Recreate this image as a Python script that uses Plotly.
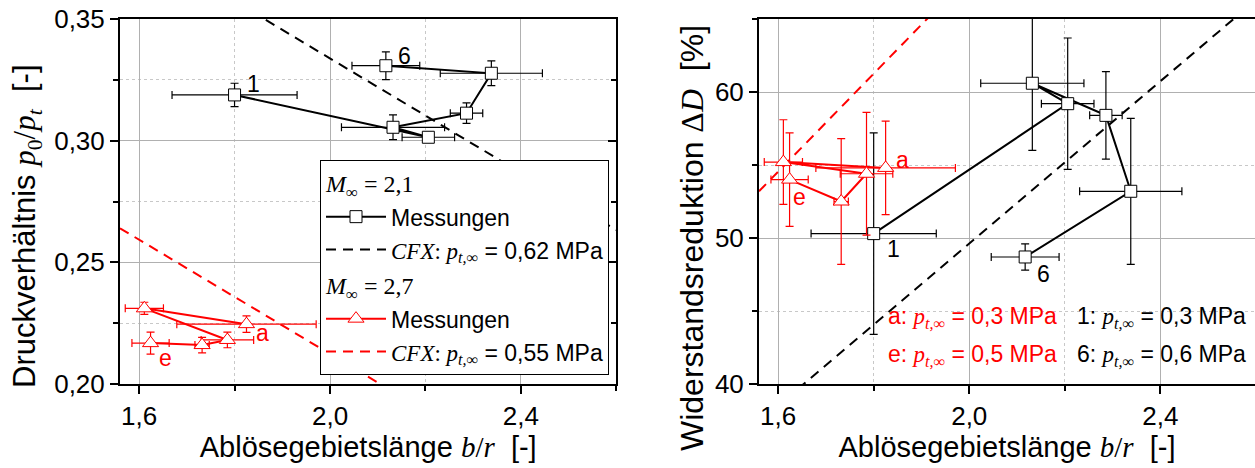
import plotly.graph_objects as go

# ---------------- data ----------------
# Messungen, M∞ = 2,1 (Punkte 1 … 6)
b_r_m21 = [1.800, 2.206, 2.132, 2.286, 2.338, 2.117]
b_r_m21_err = [0.131, 0.055, 0.108, 0.034, 0.107, 0.071]
p_ratio_m21 = [0.3188, 0.3014, 0.3055, 0.3113, 0.3277, 0.3308]
p_ratio_m21_err = [0.0048, 0.0020, 0.0051, 0.0042, 0.0051, 0.0057]
drag_red_m21 = [50.3, 59.2, 60.6, 58.4, 53.2, 48.7]
drag_red_m21_err = [6.9, 4.5, 4.6, 3.0, 5.0, 0.9]
labels_m21 = ["1", "", "", "", "", "6"]

# Messungen, M∞ = 2,7 (Punkte a … e)
b_r_m27 = [1.825, 1.611, 1.785, 1.732, 1.624]
b_r_m27_err = [0.146, 0.040, 0.055, 0.015, 0.039]
p_ratio_m27 = [0.2246, 0.2311, 0.2181, 0.2160, 0.2168]
p_ratio_m27_err = [0.0034, 0.0025, 0.0032, 0.0032, 0.0045]
drag_red_m27 = [54.8, 55.2, 54.4, 52.5, 54.0]
drag_red_m27_err = [3.2, 2.9, 4.2, 4.3, 3.2]
labels_m27 = ["a", "", "", "", "e"]

# CFX-Trendlinien
cfx_b_r = [1.56, 2.60]
cfx_p_ratio_062 = [0.3855, 0.2633]
cfx_p_ratio_055 = [0.2640, 0.1419]
cfx_drag_red_062 = [37.4, 66.3]
cfx_drag_red_055 = [53.2, 88.1]

# ---------------- styles ----------------
SANS = "Liberation Sans, Arial, sans-serif"
SERIF = "Liberation Serif, Times New Roman, serif"
RED = "#ff0000"
BLACK = "#000000"
W, H = 1255, 468


def serif(txt):
    return f"<span style='font-family:{SERIF}'>{txt}</span>"


P_T_INF = serif("<i>p</i><sub><i>t,∞</i></sub>")

fig = go.Figure()


def err(arr, color):
    return dict(type="data", array=arr, visible=True, color=color,
                thickness=1.2, width=4)


for xa, ya, y21, e21, y27, e27, c62, c55, first in [
    ("x", "y", p_ratio_m21, p_ratio_m21_err, p_ratio_m27, p_ratio_m27_err,
     cfx_p_ratio_062, cfx_p_ratio_055, True),
    ("x2", "y2", drag_red_m21, drag_red_m21_err, drag_red_m27, drag_red_m27_err,
     cfx_drag_red_062, cfx_drag_red_055, False),
]:
    # CFX lines
    fig.add_trace(go.Scatter(
        x=cfx_b_r, y=c62, xaxis=xa, yaxis=ya, mode="lines",
        line=dict(color=BLACK, width=2, dash="10px,7px"),
        name=serif("<i>CFX</i>: ") + P_T_INF + " = 0,62 MPa",
        legendgroup="m21", legendrank=2, showlegend=first,
        hoverinfo="skip"))
    fig.add_trace(go.Scatter(
        x=cfx_b_r, y=c55, xaxis=xa, yaxis=ya, mode="lines",
        line=dict(color=RED, width=2, dash="10px,7px"),
        name=serif("<i>CFX</i>: ") + P_T_INF + " = 0,55 MPa",
        legendgroup="m27", legendrank=4, showlegend=first,
        hoverinfo="skip"))
    # measurements M∞ = 2,1
    fig.add_trace(go.Scatter(
        x=b_r_m21, y=y21, xaxis=xa, yaxis=ya, mode="lines+markers",
        line=dict(color=BLACK, width=2),
        marker=dict(symbol="square", size=12, color="white",
                    line=dict(color=BLACK, width=1)),
        error_x=err(b_r_m21_err, BLACK), error_y=err(e21, BLACK),
        name="Messungen", legendgroup="m21", legendrank=1,
        legendgrouptitle=dict(text=serif("<i>M</i><sub>∞</sub> = 2,1"),
                              font=dict(size=24, color=BLACK)),
        showlegend=first))
    # measurements M∞ = 2,7
    fig.add_trace(go.Scatter(
        x=b_r_m27, y=y27, xaxis=xa, yaxis=ya, mode="lines+markers",
        line=dict(color=RED, width=2),
        marker=dict(symbol="triangle-up", size=14, color="white",
                    line=dict(color=RED, width=1)),
        error_x=err(b_r_m27_err, RED), error_y=err(e27, RED),
        name="Messungen", legendgroup="m27", legendrank=3,
        legendgrouptitle=dict(text=serif("<i>M</i><sub>∞</sub> = 2,7"),
                              font=dict(size=24, color=BLACK)),
        showlegend=first))

# inner ticks on the right border of the left panel
fig.add_trace(go.Scatter(x=[], y=[], xaxis="x", yaxis="y3", showlegend=False))

# point labels (1, 6, a, e)
label_offsets = {
    ("x", "1"): (10, 11), ("x", "6"): (10, 10), ("x", "a"): (8, -9), ("x", "e"): (6, -15),
    ("x2", "1"): (11, -15), ("x2", "6"): (10, -17), ("x2", "a"): (8, 8), ("x2", "e"): (1, -17),
}
for xa, ya, ys21, ys27 in [("x", "y", p_ratio_m21, p_ratio_m27),
                            ("x2", "y2", drag_red_m21, drag_red_m27)]:
    for xs, ys, labs, col in [(b_r_m21, ys21, labels_m21, BLACK),
                              (b_r_m27, ys27, labels_m27, RED)]:
        for xv, yv, lab in zip(xs, ys, labs):
            if not lab:
                continue
            dx, dy = label_offsets[(xa, lab)]
            fig.add_annotation(x=xv, y=yv, xref=xa, yref=ya, text=lab,
                               showarrow=False, xanchor="left", yanchor="middle",
                               xshift=dx, yshift=dy,
                               font=dict(size=23, color=col, family=SANS))

# pressure notes in the right panel
notes = [
    ("a: " + P_T_INF + " = 0,3 MPa", 886, 317, RED),
    ("e: " + P_T_INF + " = 0,5 MPa", 886, 355, RED),
    ("1: " + P_T_INF + " = 0,3 MPa", 1075, 317, BLACK),
    ("6: " + P_T_INF + " = 0,6 MPa", 1075, 355, BLACK),
]
for txt, px, py, col in notes:
    fig.add_annotation(x=px / W, y=1 - py / H, xref="paper", yref="paper",
                       text=txt, showarrow=False, xanchor="left", yanchor="middle",
                       font=dict(size=23, color=col, family=SANS))

# y-axis titles
y_titles = [
    ("Druckverhältnis " + serif("<i>p</i><sub>0</sub>/<i>p</i><sub><i>t</i></sub>") + "  [-]",
     27, 226, 31),
    ("Widerstandsreduktion " + serif("Δ<i>D</i>") + "  [%]", 692, 238, 32),
]
for txt, px, py, fs in y_titles:
    fig.add_annotation(x=px / W, y=1 - py / H, xref="paper", yref="paper",
                       text=txt, showarrow=False, textangle=-90,
                       xanchor="center", yanchor="middle",
                       font=dict(size=fs, color=BLACK, family=SANS))

GRID = "#b0b0b0"
MINOR_GRID = "#c8c8c8"

common_x = dict(
    range=[1.56, 2.6], tick0=1.6, dtick=0.4, tickformat=".1f",
    showgrid=True, gridcolor=GRID, gridwidth=1.3,
    showline=True, linecolor=BLACK, linewidth=2, mirror=True,
    ticks="outside", ticklen=8, tickwidth=1.5, tickcolor=BLACK,
    minor=dict(dtick=0.2, tick0=1.6, showgrid=True, gridcolor=MINOR_GRID,
               griddash="3px,3px", gridwidth=1, ticks="outside", ticklen=5,
               tickcolor=BLACK, tickwidth=1.5),
    tickfont=dict(size=26, family=SANS, color=BLACK),
    zeroline=False,
    title=dict(text="Ablösegebietslänge " + serif("<i>b</i>/<i>r</i>") + "  [-]",
               font=dict(size=29, family=SANS, color=BLACK), standoff=1),
)

common_y = dict(
    domain=[1 - 384 / H, 1 - 19 / H],
    showgrid=True, gridcolor=GRID, gridwidth=1.3,
    showline=True, linecolor=BLACK, linewidth=2,
    ticks="outside", ticklen=8, tickwidth=1.5, tickcolor=BLACK,
    tickfont=dict(size=26, family=SANS, color=BLACK),
    zeroline=False,
)

fig.update_layout(
    width=W, height=H,
    margin=dict(l=0, r=0, t=0, b=0, autoexpand=False),
    paper_bgcolor="white", plot_bgcolor="white",
    separators=",.",
    font=dict(family=SANS, color=BLACK),
    xaxis=dict(common_x, domain=[120 / W, 616.4 / W], anchor="y"),
    xaxis2=dict(common_x, domain=[759 / W, 1.0], anchor="y2",
                range=[1.56, 2.598]),
    yaxis=dict(
        common_y, range=[0.20, 0.35], tick0=0.20, dtick=0.05, tickformat=".2f",
        minor=dict(dtick=0.025, showgrid=True, gridcolor=MINOR_GRID,
                   griddash="3px,3px", gridwidth=1, ticks="outside",
                   ticklen=5, tickcolor=BLACK, tickwidth=1.5),
        anchor="x",
    ),
    yaxis3=dict(
        overlaying="y", anchor="x", side="right", range=[0.20, 0.35],
        tick0=0.20, dtick=0.05, showgrid=False, showticklabels=False,
        showline=True, linecolor=BLACK, linewidth=2,
        ticks="inside", ticklen=8, tickwidth=1.5, tickcolor=BLACK,
        minor=dict(dtick=0.025, ticks="inside", ticklen=5, tickcolor=BLACK,
                   tickwidth=1.5, showgrid=False),
        zeroline=False,
    ),
    yaxis2=dict(
        common_y, range=[40, 65], tick0=40, dtick=10, tickformat="d",
        minor=dict(dtick=5, showgrid=True, gridcolor=MINOR_GRID,
                   griddash="3px,3px", gridwidth=1, ticks="outside",
                   ticklen=5, tickcolor=BLACK, tickwidth=1.5),
        anchor="x2",
    ),
    showlegend=True,
    legend=dict(
        x=320 / W, y=1 - 160 / H, xanchor="left", yanchor="top",
        bgcolor="white", bordercolor=BLACK, borderwidth=1,
        font=dict(size=23, family=SANS, color=BLACK),
        traceorder="grouped", tracegroupgap=2, itemwidth=60,
    ),
)

fig.write_html("out.html")
